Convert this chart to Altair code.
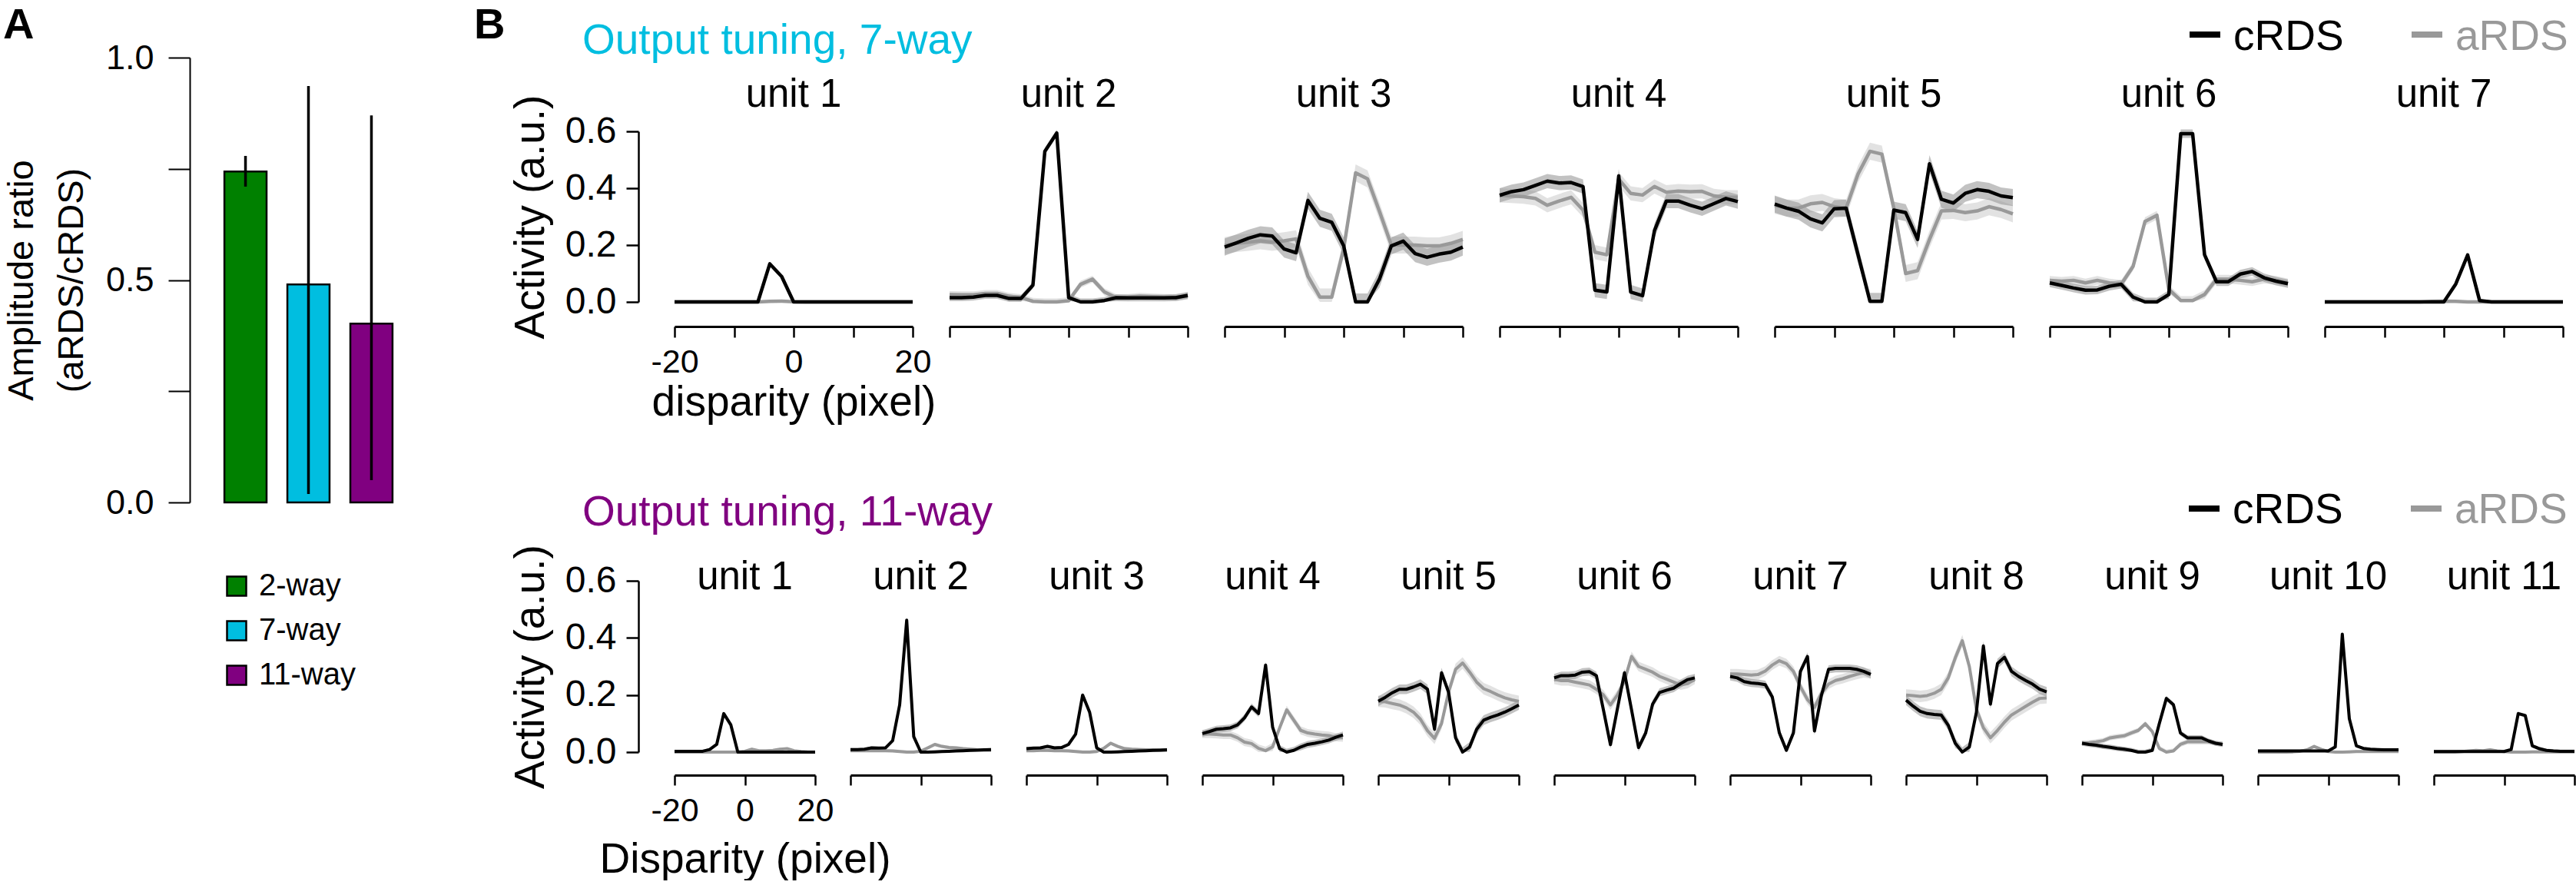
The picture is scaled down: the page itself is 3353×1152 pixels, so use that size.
import altair as alt
import pandas as pd

FONT = "Liberation Sans"
CYAN = "#00BEE0"
PURPLE = "#800080"
GRAY = "#999999"

# ---------------- Panel A data ----------------
models = ["2-way", "7-way", "11-way"]
ratio = [0.744, 0.490, 0.402]
err_lo = [0.710, 0.019, 0.050]
err_hi = [0.779, 0.936, 0.870]
model_colors = ["#008000", CYAN, PURPLE]

# ---------------- Panel B data ----------------
disp = list(range(-20, 21, 2))
stims = ["cRDS", "aRDS"]
stim_colors = ["black", GRAY]

# 7-way output units (cRDS / aRDS)
c7_1 = [0, 0, 0, 0, 0, 0, 0, 0, 0.134, 0.089, 0, 0, 0, 0, 0, 0, 0, 0, 0, 0, 0]
a7_1 = [0, 0, 0, 0, 0, 0, 0, 0, 0.002, 0.003, 0.001, 0, 0, 0, 0, 0, 0, 0, 0, 0, 0]
c7_2 = [0.015, 0.015, 0.017, 0.023, 0.023, 0.012, 0.012, 0.059, 0.53, 0.594, 0.015,
        0, 0, 0.005, 0.015, 0.014, 0.014, 0.014, 0.014, 0.015, 0.023]
a7_2 = [0.026, 0.025, 0.025, 0.03, 0.03, 0.02, 0.015, 0.002, 0, 0, 0.004,
        0.062, 0.08, 0.035, 0.015, 0.016, 0.02, 0.018, 0.016, 0.016, 0.02]
c7_3 = [0.193, 0.208, 0.224, 0.236, 0.232, 0.186, 0.173, 0.357, 0.294, 0.28, 0.197,
        0, 0, 0.08, 0.197, 0.214, 0.17, 0.157, 0.168, 0.175, 0.193]
a7_3 = [0.198, 0.206, 0.21, 0.215, 0.21, 0.215, 0.222, 0.09, 0.017, 0.017, 0.188,
        0.454, 0.433, 0.319, 0.2, 0.2, 0.2, 0.197, 0.197, 0.206, 0.22]
c7_4 = [0.375, 0.388, 0.395, 0.41, 0.425, 0.418, 0.42, 0.406, 0.041, 0.035, 0.443,
        0.035, 0.022, 0.251, 0.355, 0.355, 0.34, 0.328, 0.346, 0.364, 0.353]
a7_4 = [0.375, 0.373, 0.37, 0.364, 0.34, 0.355, 0.368, 0.323, 0.175, 0.166, 0.432,
        0.382, 0.376, 0.406, 0.386, 0.39, 0.388, 0.389, 0.373, 0.368, 0.368]
c7_5 = [0.344, 0.33, 0.319, 0.292, 0.278, 0.328, 0.33, 0.166, 0.002, 0.002, 0.323,
        0.314, 0.22, 0.486, 0.361, 0.348, 0.382, 0.395, 0.389, 0.373, 0.367]
a7_5 = [0.34, 0.33, 0.33, 0.345, 0.35, 0.335, 0.33, 0.45, 0.53, 0.52, 0.33,
        0.1, 0.11, 0.22, 0.32, 0.322, 0.314, 0.32, 0.335, 0.325, 0.31]
c7_6 = [0.067, 0.058, 0.049, 0.041, 0.042, 0.055, 0.062, 0.017, 0, 0, 0.026,
        0.592, 0.592, 0.166, 0.071, 0.071, 0.098, 0.107, 0.085, 0.073, 0.064]
a7_6 = [0.076, 0.073, 0.076, 0.067, 0.076, 0.067, 0.062, 0.125, 0.283, 0.305, 0.044,
        0.005, 0.005, 0.026, 0.08, 0.08, 0.076, 0.071, 0.08, 0.076, 0.067]
c7_7 = [0, 0, 0, 0, 0, 0, 0, 0, 0, 0, 0, 0.063, 0.165, 0.005, 0, 0, 0, 0, 0, 0, 0]
a7_7 = [0, 0, 0, 0, 0, 0, 0, 0, 0, 0.002, 0.003, 0.002, 0, 0, 0, 0, 0, 0, 0, 0, 0]

# 11-way output units (cRDS / aRDS)
c11_1 = [0.003, 0.003, 0.003, 0.003, 0.003, 0.009, 0.027, 0.135, 0.096, 0, 0,
         0, 0, 0, 0, 0, 0, 0, 0, 0, 0]
a11_1 = [0, 0, 0, 0, 0, 0, 0, 0, 0, 0, 0.003, 0.01, 0.005, 0.005, 0.006, 0.01,
         0.012, 0.005, 0.002, 0, 0]
c11_2 = [0.009, 0.009, 0.01, 0.015, 0.014, 0.015, 0.04, 0.166, 0.462, 0.054, 0,
         0, 0.001, 0.002, 0.003, 0.004, 0.005, 0.006, 0.007, 0.008, 0.009]
a11_2 = [0.005, 0.005, 0.005, 0.005, 0.005, 0.005, 0.004, 0.002, 0, 0, 0.003,
         0.015, 0.027, 0.02, 0.016, 0.015, 0.012, 0.01, 0.008, 0.007, 0.007]
c11_3 = [0.012, 0.014, 0.015, 0.02, 0.015, 0.016, 0.027, 0.063, 0.2, 0.139, 0.015,
         0, 0, 0.001, 0.002, 0.003, 0.004, 0.005, 0.006, 0.007, 0.008]
a11_3 = [0.005, 0.005, 0.006, 0.006, 0.005, 0.005, 0.004, 0.002, 0, 0, 0.002,
         0.013, 0.031, 0.02, 0.012, 0.01, 0.009, 0.008, 0.008, 0.007, 0.007]
c11_4 = [0.065, 0.072, 0.08, 0.082, 0.085, 0.095, 0.12, 0.158, 0.135, 0.305, 0.087,
         0.012, 0, 0.006, 0.018, 0.027, 0.031, 0.036, 0.042, 0.052, 0.06]
a11_4 = [0.063, 0.063, 0.062, 0.06, 0.06, 0.05, 0.035, 0.03, 0.013, 0.005, 0.018,
         0.085, 0.148, 0.112, 0.076, 0.067, 0.063, 0.06, 0.058, 0.052, 0.05]
c11_5 = [0.178, 0.192, 0.208, 0.22, 0.22, 0.228, 0.238, 0.22, 0.08, 0.278, 0.21,
         0.05, 0, 0.018, 0.08, 0.112, 0.122, 0.13, 0.14, 0.152, 0.165]
a11_5 = [0.178, 0.176, 0.17, 0.165, 0.155, 0.14, 0.115, 0.075, 0.048, 0.1, 0.21,
         0.29, 0.312, 0.28, 0.245, 0.222, 0.212, 0.2, 0.19, 0.183, 0.178]
c11_6 = [0.26, 0.268, 0.268, 0.27, 0.28, 0.282, 0.268, 0.148, 0.026, 0.153, 0.278,
         0.148, 0.016, 0.066, 0.168, 0.209, 0.217, 0.224, 0.24, 0.254, 0.26]
a11_6 = [0.255, 0.25, 0.25, 0.245, 0.24, 0.235, 0.22, 0.2, 0.165, 0.2, 0.25,
         0.335, 0.3, 0.29, 0.28, 0.265, 0.255, 0.245, 0.235, 0.24, 0.255]
c11_7 = [0.265, 0.26, 0.247, 0.242, 0.24, 0.236, 0.193, 0.067, 0.006, 0.067, 0.283,
         0.335, 0.074, 0.2, 0.29, 0.293, 0.293, 0.293, 0.29, 0.283, 0.272]
a11_7 = [0.274, 0.274, 0.272, 0.27, 0.272, 0.284, 0.305, 0.32, 0.31, 0.283, 0.229,
         0.184, 0.157, 0.206, 0.238, 0.251, 0.257, 0.265, 0.272, 0.278, 0.274]
c11_8 = [0.182, 0.161, 0.143, 0.135, 0.132, 0.13, 0.094, 0.031, 0, 0.018, 0.139,
         0.372, 0.168, 0.31, 0.332, 0.283, 0.265, 0.251, 0.238, 0.22, 0.211]
a11_8 = [0.2, 0.198, 0.195, 0.198, 0.206, 0.22, 0.26, 0.33, 0.39, 0.3, 0.15,
         0.085, 0.05, 0.076, 0.105, 0.13, 0.145, 0.16, 0.175, 0.188, 0.19]
c11_9 = [0.031, 0.027, 0.024, 0.02, 0.017, 0.013, 0.01, 0.006, 0, 0, 0.006,
         0.1, 0.188, 0.166, 0.067, 0.05, 0.05, 0.05, 0.039, 0.031, 0.027]
a11_9 = [0.031, 0.033, 0.036, 0.04, 0.05, 0.054, 0.057, 0.067, 0.076, 0.099, 0.072,
         0.013, 0, 0.004, 0.027, 0.036, 0.036, 0.036, 0.036, 0.031, 0.027]
c11_10 = [0.004, 0.004, 0.004, 0.004, 0.004, 0.004, 0.004, 0.004, 0.004, 0.004, 0.004,
          0.018, 0.413, 0.117, 0.022, 0.013, 0.01, 0.009, 0.008, 0.008, 0.008]
a11_10 = [0, 0, 0, 0, 0, 0.001, 0.003, 0.008, 0.02, 0.01, 0.002,
          0, 0, 0.001, 0.002, 0.002, 0.002, 0.002, 0.002, 0.002, 0.002]
c11_11 = [0.002, 0.002, 0.002, 0.002, 0.002, 0.002, 0.002, 0.002, 0.002, 0.002, 0.002,
          0.009, 0.135, 0.128, 0.022, 0.012, 0.006, 0.004, 0.003, 0.003, 0.003]
a11_11 = [0, 0, 0, 0, 0.002, 0.004, 0.006, 0.005, 0.008, 0.004, 0.002,
          0, 0, 0, 0.001, 0.001, 0.001, 0.001, 0.001, 0.001, 0.001]

# standard-error half widths of the shaded bands, one per unit
se7_c = [0.005, 0.012, 0.03, 0.025, 0.03, 0.015, 0.005]
se7_a = [0.004, 0.012, 0.03, 0.025, 0.03, 0.015, 0.004]
se11_c = [0.005, 0.005, 0.005, 0.012, 0.017, 0.014, 0.014, 0.017, 0.009, 0.005, 0.006]
se11_a = [0.004, 0.006, 0.006, 0.014, 0.02, 0.017, 0.017, 0.02, 0.009, 0.005, 0.005]

units7 = [(c7_1, a7_1), (c7_2, a7_2), (c7_3, a7_3), (c7_4, a7_4),
          (c7_5, a7_5), (c7_6, a7_6), (c7_7, a7_7)]
units11 = [(c11_1, a11_1), (c11_2, a11_2), (c11_3, a11_3), (c11_4, a11_4),
           (c11_5, a11_5), (c11_6, a11_6), (c11_7, a11_7), (c11_8, a11_8),
           (c11_9, a11_9), (c11_10, a11_10), (c11_11, a11_11)]

# ---------------- Panel A chart ----------------
# panel A shares its origin with the plot top of panel B's first row;
# its y axis runs from 96 px above that origin down to 483 px below it.
A_W, A_H = 309, 483
dfA = pd.DataFrame({"model": models, "ratio": ratio, "lo": err_lo, "hi": err_hi})
xA = alt.X("model:N", sort=models, axis=None,
           scale=alt.Scale(paddingInner=0.33, paddingOuter=0.55))


def yA(field):
    return alt.Y(field, scale=alt.Scale(domain=[0, 1], nice=False, range=[483, -96]),
                 axis=alt.Axis(values=[0, 0.25, 0.5, 0.75, 1.0],
                               labelExpr="datum.value % 0.5 == 0 ? format(datum.value, '.1f') : ''",
                               labelFontSize=45, labelFont=FONT, labelColor="black",
                               labelPadding=19, tickSize=28, tickWidth=2, tickColor="black",
                               domainWidth=2, domainColor="black", grid=False,
                               title=["Amplitude ratio", "(aRDS/cRDS)"], titleFontSize=47,
                               titleFont=FONT, titleFontWeight="normal", titleColor="black",
                               titlePadding=20, titleLineHeight=65))


bars = alt.Chart(dfA).mark_bar(stroke="black", strokeWidth=2.5).encode(
    x=xA, y=yA("ratio:Q"),
    color=alt.Color("model:N", sort=models,
                    scale=alt.Scale(domain=models, range=model_colors),
                    legend=alt.Legend(orient="none", legendX=41, legendY=572, title=None,
                                      symbolType="square", symbolSize=625,
                                      symbolStrokeColor="black", symbolStrokeWidth=2.5,
                                      symbolOpacity=1, labelFontSize=40, labelFont=FONT,
                                      labelColor="black", labelOffset=9, rowPadding=18,
                                      padding=0)))
errs = alt.Chart(dfA).mark_rule(color="black", strokeWidth=3.5).encode(
    x=xA, y=yA("lo:Q"), y2="hi:Q")
labA = alt.Chart(pd.DataFrame({"t": ["A"]})).mark_text(
    align="left", baseline="alphabetic", fontSize=56, fontWeight="bold",
    font=FONT, color="black").encode(text="t:N", x=alt.value(-243), y=alt.value(-121))
chartA = alt.layer(bars, errs, labA).properties(width=A_W, height=A_H)


# ---------------- Panel B charts ----------------
def text_layer(txt, x, y, size, color="black", weight="normal", align="left"):
    return alt.Chart(pd.DataFrame({"t": [txt]})).mark_text(
        align=align, baseline="alphabetic", fontSize=size, fontWeight=weight,
        font=FONT, color=color).encode(text="t:N", x=alt.value(x), y=alt.value(y))


def key_layers(x0, dash_y, text_y):
    """cRDS / aRDS key: short stroke followed by the coloured name."""
    out = []
    for j, (name, colr) in enumerate(zip(stims, stim_colors)):
        xs = x0 + j * 289
        out.append(alt.Chart(pd.DataFrame({"k": [name]})).mark_rule(
            color=colr, strokeWidth=8).encode(
            x=alt.value(xs), x2=alt.value(xs + 40), y=alt.value(dash_y)))
        out.append(text_layer(name, xs + 57, text_y, 55, color=colr))
    return out


def unit_chart(k, c, a, sc, sa, cfg, extra=()):
    n = len(disp)
    df = pd.DataFrame({
        "disp": disp + disp,
        "stim": ["cRDS"] * n + ["aRDS"] * n,
        "act": c + a,
        "lo": [max(0.0, v - sc) for v in c] + [max(0.0, v - sa) for v in a],
        "hi": [v + sc for v in c] + [v + sa for v in a],
    })
    first = k == 1
    if first:
        xaxis = alt.Axis(values=cfg["xt"], labelExpr="datum.value % 20 == 0 ? '' + datum.value : ''",
                         labelFontSize=43, labelFont=FONT, labelColor="black",
                         labelFlush=False, labelOverlap=False, labelPadding=cfg["lp"],
                         tickSize=cfg["ts"], tickWidth=2.5, tickColor="black",
                         domainWidth=3, domainColor="black", grid=False, offset=cfg["xo"],
                         title=cfg["xtitle"], titleFontSize=55, titleFont=FONT,
                         titleFontWeight="normal", titleColor="black", titlePadding=cfg["tp"])
        yaxis = alt.Axis(values=[0, 0.2, 0.4, 0.6], format=".1f", labelFontSize=48,
                         labelFont=FONT, labelColor="black", labelPadding=13,
                         tickSize=16, tickWidth=2.5, tickColor="black", domainWidth=2.5,
                         domainColor="black", grid=False, offset=47,
                         title="Activity (a.u.)", titleFontSize=55, titleFont=FONT,
                         titleFontWeight="normal", titleColor="black", titlePadding=16)
    else:
        xaxis = alt.Axis(values=cfg["xt"], labels=False, tickSize=cfg["ts"], tickWidth=2.5,
                         tickColor="black", domainWidth=3, domainColor="black", grid=False,
                         offset=cfg["xo"], title=None)
        yaxis = None
    X = alt.X("disp:Q", scale=alt.Scale(domain=[-20, 20], nice=False), axis=xaxis)

    def Y(f):
        return alt.Y(f, scale=alt.Scale(domain=[0, 0.6], nice=False), axis=yaxis)

    col = alt.Color("stim:N", scale=alt.Scale(domain=stims, range=stim_colors), legend=None)
    base = alt.Chart(df)
    band_a = base.transform_filter("datum.stim == 'aRDS'").mark_area(
        color="#cfcfcf", opacity=0.6).encode(x=X, y=Y("lo:Q"), y2="hi:Q")
    band_c = base.transform_filter("datum.stim == 'cRDS'").mark_area(
        color="#9a9a9a", opacity=0.6).encode(x=X, y=Y("lo:Q"), y2="hi:Q")
    line_a = base.transform_filter("datum.stim == 'aRDS'").mark_line(
        strokeWidth=cfg["lw"], strokeJoin="round").encode(x=X, y=Y("act:Q"), color=col)
    line_c = base.transform_filter("datum.stim == 'cRDS'").mark_line(
        strokeWidth=cfg["lw"], strokeJoin="round").encode(x=X, y=Y("act:Q"), color=col)
    ttl = text_layer(f"unit {k}", cfg["w"] / 2, cfg["ty"], 51, align="center")
    return alt.layer(band_a, band_c, line_a, line_c, ttl, *extra).properties(
        width=cfg["w"], height=cfg["h"])


cfg7 = dict(w=310, h=222, xt=[-20, -10, 0, 10, 20], xo=32, ts=14, lp=11, tp=4,
            xtitle="disparity (pixel)", lw=4.5, ty=-32)
cfg11 = dict(w=183, h=223, xt=[-20, 0, 20], xo=30, ts=13, lp=12, tp=15,
             xtitle="Disparity (pixel)", lw=4.0, ty=11)

row7_charts = []
for i, (c, a) in enumerate(units7):
    k = i + 1
    extra = []
    if k == 1:
        extra = [text_layer("B", -261, -121, 56, weight="bold"),
                 text_layer("Output tuning, 7-way", -120, -101, 55, color=CYAN)]
    if k == 7:
        extra = key_layers(-176, -126, -106)
    row7_charts.append(unit_chart(k, c, a, se7_c[i], se7_a[i], cfg7, extra))

row11_charts = []
for i, (c, a) in enumerate(units11):
    k = i + 1
    extra = []
    if k == 1:
        extra = [text_layer("Output tuning, 11-way", -120, -72, 55, color=PURPLE)]
    if k == 11:
        extra = key_layers(-319, -94, -75)
    row11_charts.append(unit_chart(k, c, a, se11_c[i], se11_a[i], cfg11, extra))

row7 = alt.hconcat(*row7_charts, spacing=48, bounds="flush").resolve_scale(
    color="independent", x="independent", y="independent")
row11 = alt.hconcat(*row11_charts, spacing=46, bounds="flush").resolve_scale(
    color="independent", x="independent", y="independent")

panelB = alt.vconcat(row7, row11, spacing=86).resolve_scale(
    color="independent", x="independent", y="independent")

chart = alt.hconcat(chartA, panelB, spacing=61).resolve_scale(
    color="independent", x="independent", y="independent").resolve_legend(
    color="independent").properties(
    padding={"left": 4, "top": 5, "right": 0, "bottom": 0},
    background="white").configure(font=FONT).configure_view(strokeWidth=0, stroke="transparent")

chart.save("out.html", embed_options={"renderer": "svg", "actions": False})
